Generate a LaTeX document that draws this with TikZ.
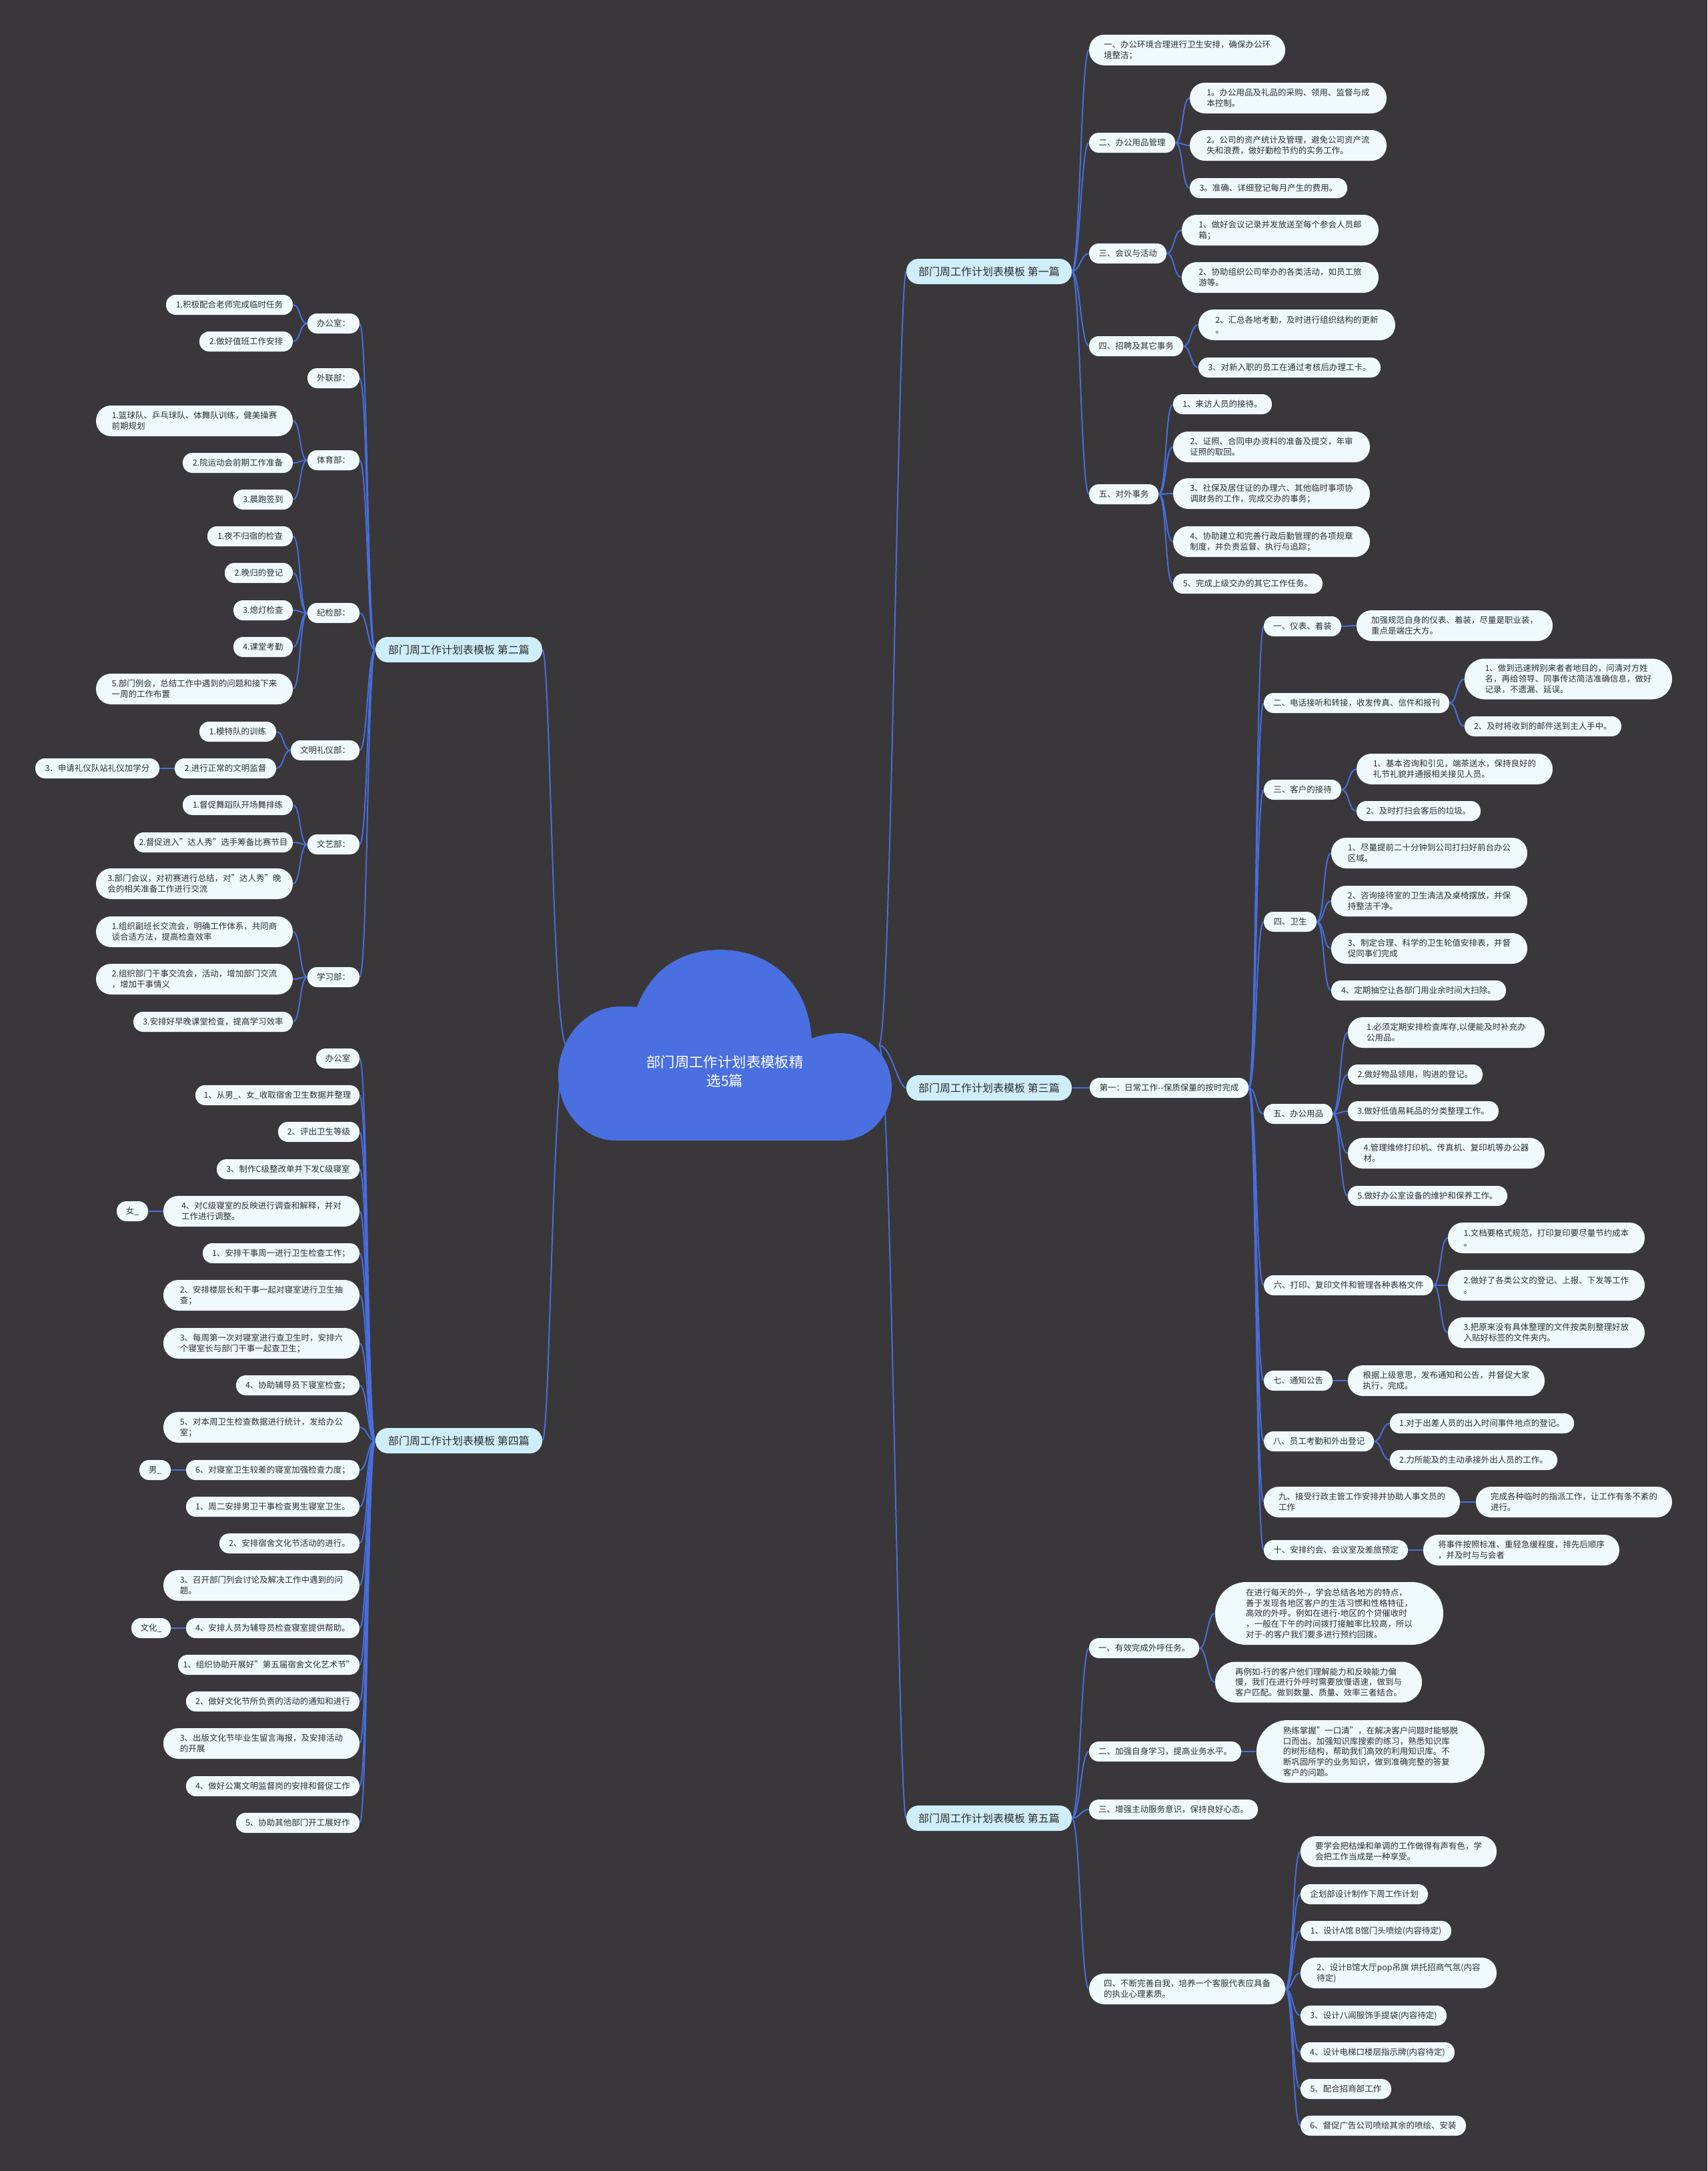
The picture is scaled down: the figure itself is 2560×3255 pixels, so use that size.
\documentclass[tikz,border=0pt]{standalone}
\usepackage{fontspec}
\setmainfont{Noto Sans CJK SC}
\usetikzlibrary{backgrounds,calc}
\definecolor{bgc}{RGB}{57,55,57}
\definecolor{ndfill}{RGB}{240,250,252}
\definecolor{secfill}{RGB}{207,238,251}
\definecolor{ndtext}{RGB}{45,45,45}
\definecolor{linec}{RGB}{72,110,222}
\definecolor{cloudc}{RGB}{74,111,224}
\tikzset{
  nd/.style={fill=ndfill, text=ndtext, inner xsep=3pt, inner ysep=1pt, align=left, font=\fontsize{12.5}{15.8}\selectfont},
  secnd/.style={fill=secfill, text=ndtext, inner xsep=3pt, inner ysep=1pt, align=center, font=\fontsize{16}{19}\selectfont},
  conn/.style={draw=linec, line width=2pt},
}
\newcommand\mn[7][nd]{\node[#1, minimum width={(#4)-(#3)}, minimum height=#6, rounded corners={(#6)/2-0.5}] (#2) at ({((#3)+(#4))/2},#5) {#7};}
\newcommand\lkR[2]{\draw[conn] (#1.east) .. controls ($(#1.east)+(12,0)$) and ($(#2.west)+(-12,0)$) .. (#2.west);}
\newcommand\lkL[2]{\draw[conn] (#1.west) .. controls ($(#1.west)+(-12,0)$) and ($(#2.east)+(12,0)$) .. (#2.east);}
\begin{document}
\begin{tikzpicture}[x=1pt,y=-1pt]
\useasboundingbox (0,0) rectangle (2560,3255);
\begin{pgfonlayer}{background}
\fill[bgc] (0,0) rectangle (2560,3255);
\end{pgfonlayer}

% ---------- cloud ----------
\fill[cloudc] (923,1710) -- (1260,1710) .. controls (1302,1710) and (1337,1674) .. (1337,1630)
  .. controls (1337,1585) and (1302,1549) .. (1260,1549)
  .. controls (1243,1549) and (1228,1553) .. (1217,1557)
  .. controls (1212,1475) and (1155,1424) .. (1080,1424)
  .. controls (1020,1424) and (975,1455) .. (955,1510)
  .. controls (948,1509) and (940,1509) .. (930,1509)
  .. controls (879,1509) and (837,1556) .. (837,1613)
  .. controls (837,1666) and (876,1710) .. (923,1710) -- cycle;
\node[text=white, align=center, font=\fontsize{21.4}{28}\selectfont] (root) at (1087,1606) {部门周工作计划表模板精\\选5篇};
\coordinate (cR) at (1318,1567);
\coordinate (cL) at (850,1568);

% ---------- section nodes ----------
\mn[secnd]{s1}{1359}{1607}{407}{38}{部门周工作计划表模板 第一篇}
\mn[secnd]{s3}{1359}{1607}{1631}{38}{部门周工作计划表模板 第三篇}
\mn[secnd]{s5}{1359}{1607}{2726}{38}{部门周工作计划表模板 第五篇}
\mn[secnd]{s2}{563}{813}{974}{38}{部门周工作计划表模板 第二篇}
\mn[secnd]{s4}{563}{813}{2160}{38}{部门周工作计划表模板 第四篇}

% ---------- 第一篇 ----------
\mn{a1}{1633}{1927}{75}{46}{一、办公环境合理进行卫生安排，确保办公环\\境整洁；}
\mn{a2}{1633}{1762}{214}{30}{二、办公用品管理}
\mn{a21}{1784}{2079}{147}{46}{1。办公用品及礼品的采购、领用、监督与成\\本控制。}
\mn{a22}{1784}{2079}{218}{46}{2。公司的资产统计及管理，避免公司资产流\\失和浪费，做好勤检节约的实务工作。}
\mn{a23}{1784}{2020}{282}{30}{3。准确、详细登记每月产生的费用。}
\mn{a3}{1633}{1749}{380}{30}{三、会议与活动}
\mn{a31}{1772}{2067}{345}{46}{1、做好会议记录并发放送至每个参会人员邮\\箱；}
\mn{a32}{1772}{2067}{416}{46}{2、协助组织公司举办的各类活动，如员工旅\\游等。}
\mn{a4}{1633}{1774}{519}{30}{四、招聘及其它事务}
\mn{a41}{1797}{2092}{487}{46}{2、汇总各地考勤，及时进行组织结构的更新\\。}
\mn{a42}{1797}{2070}{551}{30}{3、对新入职的员工在通过考核后办理工卡。}
\mn{a5}{1633}{1737}{741}{30}{五、对外事务}
\mn{a51}{1759}{1907}{606}{30}{1、来访人员的接待。}
\mn{a52}{1759}{2054}{670}{46}{2、证照、合同申办资料的准备及提交，年审\\证照的取回。}
\mn{a53}{1759}{2054}{740}{46}{3、社保及居住证的办理六、其他临时事项协\\调财务的工作，完成交办的事务；}
\mn{a54}{1759}{2054}{812}{46}{4、协助建立和完善行政后勤管理的各项规章\\制度，并负责监督、执行与追踪；}
\mn{a55}{1759}{1983}{875}{30}{5、完成上级交办的其它工作任务。}

% ---------- 第三篇 ----------
\mn{b0}{1634}{1872}{1631}{30}{第一：日常工作{-}{-}保质保量的按时完成}
\mn{b1}{1895}{2011}{939}{30}{一、仪表、着装}
\mn{b11}{2034}{2328}{938}{46}{加强规范自身的仪表、着装，尽量是职业装，\\重点是端庄大方。}
\mn{b2}{1895}{2173}{1054}{30}{二、电话接听和转接，收发传真、信件和报刊}
\mn{b21}{2196}{2507}{1018}{61}{1、做到迅速辨别来者者地目的，问清对方姓\\名，再给领导、同事传达简洁准确信息，做好\\记录，不遗漏、延误。}
\mn{b22}{2196}{2431}{1089}{30}{2、及时将收到的邮件送到主人手中。}
\mn{b3}{1895}{2011}{1184}{30}{三、客户的接待}
\mn{b31}{2034}{2328}{1153}{46}{1、基本咨询和引见，端茶送水，保持良好的\\礼节礼貌并通报相关接见人员。}
\mn{b32}{2034}{2220}{1216}{30}{2、及时打扫会客后的垃圾。}
\mn{b4}{1895}{1974}{1382}{30}{四、卫生}
\mn{b41}{1996}{2290}{1279}{46}{1、尽量提前二十分钟到公司打扫好前台办公\\区域。}
\mn{b42}{1996}{2290}{1351}{46}{2、咨询接待室的卫生清洁及桌椅摆放，并保\\持整洁干净。}
\mn{b43}{1996}{2290}{1422}{46}{3、制定合理、科学的卫生轮值安排表，并督\\促同事们完成}
\mn{b44}{1996}{2258}{1485}{30}{4、定期抽空让各部门用业余时间大扫除。}
\mn{b5}{1895}{1998}{1670}{30}{五、办公用品}
\mn{b51}{2021}{2316}{1548}{46}{1.必须定期安排检查库存,以便能及时补充办\\公用品。}
\mn{b52}{2021}{2223}{1611}{30}{2.做好物品领用，购进的登记。}
\mn{b53}{2021}{2247}{1666}{30}{3.做好低值易耗品的分类整理工作。}
\mn{b54}{2021}{2316}{1729}{46}{4.管理维修打印机、传真机、复印机等办公器\\材。}
\mn{b55}{2021}{2260}{1793}{30}{5.做好办公室设备的维护和保养工作。}
\mn{b6}{1895}{2149}{1927}{30}{六、打印、复印文件和管理各种表格文件}
\mn{b61}{2171}{2466}{1856}{46}{1.文档要格式规范，打印复印要尽量节约成本\\。}
\mn{b62}{2171}{2466}{1927}{46}{2.做好了各类公文的登记、上报、下发等工作\\。}
\mn{b63}{2171}{2466}{1998}{46}{3.把原来没有具体整理的文件按类别整理好放\\入贴好标签的文件夹内。}
\mn{b7}{1895}{1998}{2070}{30}{七、通知公告}
\mn{b71}{2021}{2316}{2070}{46}{根据上级意思，发布通知和公告，并督促大家\\执行，完成。}
\mn{b8}{1895}{2060}{2161}{30}{八、员工考勤和外出登记}
\mn{b81}{2084}{2360}{2134}{30}{1.对于出差人员的出入时间事件地点的登记。}
\mn{b82}{2084}{2335}{2189}{30}{2.力所能及的主动承接外出人员的工作。}
\mn{b9}{1895}{2189}{2252}{46}{九、接受行政主管工作安排并协助人事文员的\\工作}
\mn{b91}{2213}{2507}{2252}{46}{完成各种临时的指派工作，让工作有条不紊的\\进行。}
\mn{b10}{1895}{2111}{2324}{30}{十、安排约会、会议室及差旅预定}
\mn{b101}{2134}{2428}{2324}{46}{将事件按照标准、重轻急缓程度，排先后顺序\\，并及时与与会者}

% ---------- 第五篇 ----------
\mn{c1}{1633}{1798}{2471}{30}{一、有效完成外呼任务。}
\mn{c11}{1822}{2164}{2419}{94}{在进行每天的外-，学会总结各地方的特点，\\善于发现各地区客户的生活习惯和性格特征，\\高效的外呼。例如在进行-地区的个贷催收时\\，一般在下午的时间拨打接触率比较高，所以\\对于-的客户我们要多进行预约回拨。}
\mn{c12}{1822}{2132}{2522}{61}{再例如-行的客户他们理解能力和反映能力偏\\慢，我们在进行外呼时需要放慢语速，做到与\\客户匹配。做到数量、质量、效率三者结合。}
\mn{c2}{1633}{1861}{2626}{30}{二、加强自身学习，提高业务水平。}
\mn{c21}{1884}{2226}{2626}{94}{熟练掌握"一口清"，在解决客户问题时能够脱\\口而出。加强知识库搜索的练习，熟悉知识库\\的树形结构，帮助我们高效的利用知识库。不\\断巩固所学的业务知识，做到准确完整的答复\\客户的问题。}
\mn{c3}{1633}{1886}{2713}{30}{三、增强主动服务意识，保持良好心态。}
\mn{c4}{1633}{1927}{2982}{46}{四、不断完善自我，培养一个客服代表应具备\\的执业心理素质。}
\mn{c41}{1950}{2244}{2776}{46}{要学会把枯燥和单调的工作做得有声有色，学\\会把工作当成是一种享受。}
\mn{c42}{1950}{2141}{2840}{30}{企划部设计制作下周工作计划}
\mn{c43}{1950}{2176}{2895}{30}{1、设计A馆 B馆门头喷绘(内容待定)}
\mn{c44}{1950}{2244}{2958}{46}{2、设计B馆大厅pop吊旗 烘托招商气氛(内容\\待定)}
\mn{c45}{1950}{2169}{3022}{30}{3、设计八阊服饰手提袋(内容待定)}
\mn{c46}{1950}{2181}{3077}{30}{4、设计电梯口楼层指示牌(内容待定)}
\mn{c47}{1950}{2086}{3132}{30}{5、配合招商部工作}
\mn{c48}{1950}{2198}{3187}{30}{6、督促广告公司喷绘其余的喷绘、安装}

% ---------- 第二篇 ----------
\mn{d1}{461}{539}{485}{30}{办公室：}
\mn{d11}{249}{439}{457}{30}{1.积极配合老师完成临时任务}
\mn{d12}{299}{439}{512}{30}{2.做好值班工作安排}
\mn{d2}{461}{539}{567}{30}{外联部：}
\mn{d3}{461}{539}{690}{30}{体育部：}
\mn{d31}{144}{439}{631}{46}{1.篮球队、乒乓球队、体舞队训练，健美操赛\\前期规划}
\mn{d32}{274}{439}{694}{30}{2.院运动会前期工作准备}
\mn{d33}{350}{439}{749}{30}{3.晨跑签到}
\mn{d4}{461}{539}{919}{30}{纪检部：}
\mn{d41}{311}{439}{804}{30}{1.夜不归宿的检查}
\mn{d42}{337}{439}{859}{30}{2.晚归的登记}
\mn{d43}{350}{439}{915}{30}{3.熄灯检查}
\mn{d44}{350}{439}{970}{30}{4.课堂考勤}
\mn{d45}{144}{439}{1033}{46}{5.部门例会，总结工作中遇到的问题和接下来\\一周的工作布置}
\mn{d5}{436}{539}{1125}{30}{文明礼仪部：}
\mn{d51}{299}{414}{1097}{30}{1.模特队的训练}
\mn{d52}{262}{414}{1152}{30}{2.进行正常的文明监督}
\mn{d521}{53}{239}{1152}{30}{3．申请礼仪队站礼仪加学分}
\mn{d6}{461}{539}{1266}{30}{文艺部：}
\mn{d61}{274}{439}{1207}{30}{1.督促舞蹈队开场舞排练}
\mn{d62}{201}{439}{1263}{30}{2.督促进入"达人秀"选手筹备比赛节目}
\mn{d63}{144}{439}{1325}{46}{3.部门会议，对初赛进行总结，对"达人秀"晚\\会的相关准备工作进行交流}
\mn{d7}{461}{539}{1465}{30}{学习部：}
\mn{d71}{144}{439}{1397}{46}{1.组织副班长交流会，明确工作体系，共同商\\谈合适方法，提高检查效率}
\mn{d72}{144}{439}{1468}{46}{2.组织部门干事交流会，活动，增加部门交流\\，增加干事情义}
\mn{d73}{200}{439}{1532}{30}{3.安排好早晚课堂检查，提高学习效率}

% ---------- 第四篇 ----------
\mn{e0}{474}{539}{1587}{30}{办公室}
\mn{e1}{293}{539}{1642}{30}{1、从男\_、女\_收取宿舍卫生数据并整理}
\mn{e2}{417}{539}{1697}{30}{2、评出卫生等级}
\mn{e3}{325}{539}{1753}{30}{3、制作C级整改单并下发C级寝室}
\mn{e4}{245}{539}{1816}{46}{4、对C级寝室的反映进行调查和解释，并对\\工作进行调整。}
\mn{e41}{175}{222}{1816}{30}{女\_}
\mn{e5}{304}{539}{1879}{30}{1、安排干事周一进行卫生检查工作；}
\mn{e6}{245}{539}{1942}{46}{2、安排楼层长和干事一起对寝室进行卫生抽\\查；}
\mn{e7}{245}{539}{2014}{46}{3、每周第一次对寝室进行查卫生时，安排六\\个寝室长与部门干事一起查卫生；}
\mn{e8}{354}{539}{2077}{30}{4、协助辅导员下寝室检查；}
\mn{e9}{245}{539}{2140}{46}{5、对本周卫生检查数据进行统计，发给办公\\室；}
\mn{e10}{279}{539}{2204}{30}{6、对寝室卫生较差的寝室加强检查力度；}
\mn{e101}{209}{256}{2204}{30}{男\_}
\mn{e11}{279}{539}{2259}{30}{1、周二安排男卫干事检查男生寝室卫生。}
\mn{e12}{329}{539}{2314}{30}{2、安排宿舍文化节活动的进行。}
\mn{e13}{245}{539}{2377}{46}{3、召开部门列会讨论及解决工作中遇到的问\\题。}
\mn{e14}{279}{539}{2441}{30}{4、安排人员为辅导员检查寝室提供帮助。}
\mn{e141}{197}{256}{2441}{30}{文化\_}
\mn{e15}{267}{539}{2496}{30}{1、组织协助开展好"第五届宿舍文化艺术节"}
\mn{e16}{279}{539}{2551}{30}{2、做好文化节所负责的活动的通知和进行}
\mn{e17}{245}{539}{2614}{46}{3、出版文化节毕业生留言海报，及安排活动\\的开展}
\mn{e18}{279}{539}{2678}{30}{4、做好公寓文明监督岗的安排和督促工作}
\mn{e19}{354}{539}{2733}{30}{5、协助其他部门开工展好作}

% ---------- connectors ----------
\begin{pgfonlayer}{background}
\foreach \s in {s1,s3,s5}{\draw[conn] (cR) .. controls ($(cR)+(18,0)$) and ($(\s.west)+(-12,0)$) .. (\s.west);}
\foreach \s in {s2,s4}{\draw[conn] (cL) .. controls ($(cL)+(-22,0)$) and ($(\s.east)+(12,0)$) .. (\s.east);}
\foreach \c in {a1,a2,a3,a4,a5}{\lkR{s1}{\c}}
\foreach \c in {a21,a22,a23}{\lkR{a2}{\c}}
\foreach \c in {a31,a32}{\lkR{a3}{\c}}
\foreach \c in {a41,a42}{\lkR{a4}{\c}}
\foreach \c in {a51,a52,a53,a54,a55}{\lkR{a5}{\c}}
\lkR{s3}{b0}
\foreach \c in {b1,b2,b3,b4,b5,b6,b7,b8,b9,b10}{\lkR{b0}{\c}}
\lkR{b1}{b11}
\foreach \c in {b21,b22}{\lkR{b2}{\c}}
\foreach \c in {b31,b32}{\lkR{b3}{\c}}
\foreach \c in {b41,b42,b43,b44}{\lkR{b4}{\c}}
\foreach \c in {b51,b52,b53,b54,b55}{\lkR{b5}{\c}}
\foreach \c in {b61,b62,b63}{\lkR{b6}{\c}}
\lkR{b7}{b71}
\foreach \c in {b81,b82}{\lkR{b8}{\c}}
\lkR{b9}{b91}
\lkR{b10}{b101}
\foreach \c in {c1,c2,c3,c4}{\lkR{s5}{\c}}
\foreach \c in {c11,c12}{\lkR{c1}{\c}}
\lkR{c2}{c21}
\foreach \c in {c41,c42,c43,c44,c45,c46,c47,c48}{\lkR{c4}{\c}}
\foreach \c in {d1,d2,d3,d4,d5,d6,d7}{\lkL{s2}{\c}}
\foreach \c in {d11,d12}{\lkL{d1}{\c}}
\foreach \c in {d31,d32,d33}{\lkL{d3}{\c}}
\foreach \c in {d41,d42,d43,d44,d45}{\lkL{d4}{\c}}
\foreach \c in {d51,d52}{\lkL{d5}{\c}}
\lkL{d52}{d521}
\foreach \c in {d61,d62,d63}{\lkL{d6}{\c}}
\foreach \c in {d71,d72,d73}{\lkL{d7}{\c}}
\foreach \c in {e0,e1,e2,e3,e4,e5,e6,e7,e8,e9,e10,e11,e12,e13,e14,e15,e16,e17,e18,e19}{\lkL{s4}{\c}}
\lkL{e4}{e41}
\lkL{e10}{e101}
\lkL{e14}{e141}
\end{pgfonlayer}
\end{tikzpicture}
\end{document}
